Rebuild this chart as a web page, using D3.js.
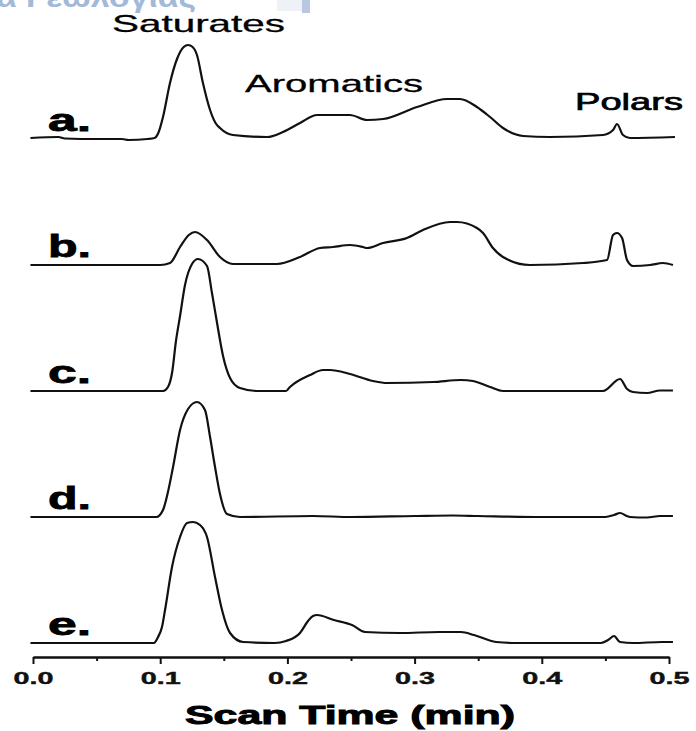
<!DOCTYPE html>
<html>
<head>
<meta charset="utf-8">
<script src="https://cdn.jsdelivr.net/npm/d3@7"></script>
<style>
  body { margin: 0; background: #fff; }
  svg { display: block; font-family: "Liberation Sans", Arial, sans-serif; }
</style>
</head>
<body>
<svg width="696" height="731"></svg>
<script>
// scan time (min) vs detector signal, one array per sample
var traceNames = ["a.", "b.", "c.", "d.", "e."];
var regionNames = ["Saturates", "Aromatics", "Polars"];
var majorTicks = [0, 0.1, 0.2, 0.3, 0.4, 0.5];
var minorTicks = [0.05, 0.15, 0.25, 0.35, 0.45];
var axisTitle = "Scan Time (min)";

var traceA = [[-0.002,0.01],[0.02,0.02],[0.025,0.005],[0.05,0],[0.07,0],[0.075,-0.01],[0.09,0],[0.0955,0.01],[0.0985,0.06],
  [0.1022,0.22],[0.1077,0.56],[0.1132,0.8],[0.1185,0.92],[0.1219,0.94],[0.1255,0.92],[0.1289,0.84],[0.1336,0.56],
  [0.1392,0.29],[0.1435,0.16],[0.147,0.11],[0.1572,0.04],[0.184,0.02],[0.1965,0.07],[0.2099,0.16],[0.2233,0.24],
  [0.2492,0.24],[0.2626,0.19],[0.2752,0.2],[0.3019,0.32],[0.3255,0.4],[0.3357,0.4],[0.349,0.32],[0.3593,0.22],
  [0.3695,0.11],[0.3852,0.03],[0.4064,0.02],[0.4481,0.04],[0.456,0.09],[0.4591,0.15],[0.4638,0.04],[0.4693,0.01],
  [0.5047,0.02]];

var traceB = [[-0.002,0],[0.1,0],[0.1077,0.02],[0.1156,0.18],[0.1225,0.3],[0.1274,0.33],[0.1368,0.25],[0.147,0.08],
  [0.1572,0.01],[0.1918,0.01],[0.2099,0.08],[0.2256,0.17],[0.2358,0.18],[0.2492,0.2],[0.2594,0.18],[0.2626,0.17],
  [0.2752,0.22],[0.294,0.27],[0.3066,0.35],[0.3278,0.43],[0.3333,0.43],[0.349,0.37],[0.3538,0.32],[0.3616,0.17],
  [0.3695,0.08],[0.3907,0],[0.4324,0.02],[0.4513,0.05],[0.456,0.3],[0.4591,0.32],[0.4631,0.27],[0.467,0.05],
  [0.4717,-0.01],[0.4851,0],[0.4953,0.02],[0.5031,0]];

var traceC = [[-0.002,0],[0.1022,0],[0.1061,0.04],[0.1093,0.18],[0.1124,0.5],[0.1156,0.75],[0.1195,1.06],[0.125,1.27],
  [0.1297,1.32],[0.1368,1.25],[0.1407,0.98],[0.1447,0.68],[0.1494,0.35],[0.1549,0.13],[0.1627,0.03],[0.176,0],
  [0.1989,0],[0.202,0.04],[0.2178,0.16],[0.228,0.21],[0.2335,0.21],[0.2492,0.17],[0.2673,0.1],[0.2783,0.08],
  [0.3145,0.09],[0.3365,0.11],[0.3459,0.1],[0.3593,0.04],[0.3695,0],[0.4481,0],[0.4615,0.12],[0.467,0.02],
  [0.4717,-0.01],[0.4827,-0.02],[0.4929,0.005],[0.5031,0.005]];

var traceD = [[-0.002,0],[0.097,0],[0.1022,0.07],[0.1061,0.25],[0.1101,0.5],[0.1156,0.87],[0.1219,1.08],[0.1289,1.15],
  [0.1352,1.07],[0.1392,0.8],[0.1431,0.5],[0.147,0.23],[0.1525,0.03],[0.1627,0],[0.22,0.01],[0.25,0],[0.3,0.01],
  [0.33,0.015],[0.35,0.01],[0.4,0],[0.45,0],[0.4568,0.02],[0.4615,0.04],[0.4668,0.01],[0.4693,0],[0.4827,-0.005],
  [0.4929,0.01],[0.5031,0.01]];

var traceE = [[-0.002,0],[0.095,0],[0.0983,0.06],[0.1014,0.16],[0.1038,0.33],[0.1093,0.76],[0.1156,1.06],[0.1211,1.2],
  [0.1258,1.21],[0.1313,1.18],[0.1368,1.06],[0.1431,0.66],[0.1486,0.33],[0.1549,0.1],[0.1651,0.01],[0.19,0],
  [0.1989,0.02],[0.2099,0.1],[0.2162,0.22],[0.2201,0.27],[0.2233,0.28],[0.2366,0.23],[0.2508,0.18],[0.261,0.11],
  [0.2885,0.1],[0.3192,0.11],[0.3365,0.11],[0.3467,0.08],[0.364,0.01],[0.38,0],[0.4465,0],[0.4521,0.03],
  [0.4568,0.07],[0.4615,0.01],[0.4717,0],[0.4945,0.01],[0.5031,0.01]];

var traces = [traceA, traceB, traceC, traceD, traceE];

var svg = d3.select("svg"),
    axisY = 657;

var x = d3.scaleLinear().domain([0, 0.5]).range([33, 669]);
var base = d3.scalePoint().domain(traceNames).range([139, 643]);
var amp = d3.scaleLinear().domain([0, 1]).range([0, 100]);

// faded watermark cut off at the top edge
svg.append("text")
    .attr("x", -4).attr("y", 7)
    .attr("textLength", 200).attr("lengthAdjust", "spacingAndGlyphs")
    .style("font-size", "28px").style("font-weight", "bold")
    .style("fill", "#a3b9d9")
    .text("α Γεωλογίας");
svg.append("rect").attr("x", 277).attr("y", 0).attr("width", 25).attr("height", 11).style("fill", "#eef1f6");
svg.append("rect").attr("x", 302).attr("y", 0).attr("width", 8).attr("height", 13).style("fill", "#b9c8e1");

var line = d3.line().curve(d3.curveMonotoneX);

traces.forEach(function(tr, i) {
  var b0 = base(traceNames[i]);
  svg.append("path")
      .datum(tr)
      .attr("d", line.x(function(d) { return x(d[0]); })
                     .y(function(d) { return b0 - amp(d[1]); }))
      .style("fill", "none")
      .style("stroke", "#111")
      .style("stroke-width", 2.2)
      .style("stroke-linejoin", "round");

  svg.append("text")
      .attr("x", 48).attr("y", b0 - 8)
      .attr("textLength", 43).attr("lengthAdjust", "spacingAndGlyphs")
      .style("font-size", "31px").style("font-weight", "bold")
      .style("stroke", "#000").style("stroke-width", 0.8)
      .text(traceNames[i]);
});

// region labels above trace a
var regionPos = [[112, 32, 173], [245, 92, 178], [575, 110, 108]];
svg.selectAll("text.region")
  .data(regionNames)
  .enter().append("text")
    .attr("class", "region")
    .attr("x", function(d, i) { return regionPos[i][0]; })
    .attr("y", function(d, i) { return regionPos[i][1]; })
    .attr("textLength", function(d, i) { return regionPos[i][2]; })
    .attr("lengthAdjust", "spacingAndGlyphs")
    .style("font-size", "24px")
    .style("stroke", "#000").style("stroke-width", function(d, i) { return i == 2 ? 0.7 : 0.3; })
    .text(function(d) { return d; });

// x axis
svg.append("g")
    .attr("transform", "translate(0," + axisY + ")")
    .call(d3.axisBottom(x).tickValues(minorTicks).tickSize(4).tickSizeOuter(0).tickFormat(""));
var majorAxis = svg.append("g")
    .attr("transform", "translate(0," + axisY + ")")
    .call(d3.axisBottom(x).tickValues(majorTicks).tickSize(7).tickSizeOuter(0).tickFormat(d3.format(".1f")));

svg.selectAll(".domain").style("stroke", "#111").style("stroke-width", 2);
svg.selectAll(".tick line").style("stroke", "#111").style("stroke-width", 2);

majorAxis.selectAll(".tick text")
    .attr("text-anchor", "start")
    .attr("x", -20).attr("y", 15)
    .attr("dy", "0.71em")
    .attr("textLength", 40).attr("lengthAdjust", "spacingAndGlyphs")
    .style("font-size", "17px").style("font-weight", "bold")
    .style("font-family", "'Liberation Sans', Arial, sans-serif")
    .style("stroke", "#111").style("stroke-width", 0.4)
    .style("fill", "#111");

svg.append("text")
    .attr("x", 185).attr("y", 724)
    .attr("textLength", 330).attr("lengthAdjust", "spacingAndGlyphs")
    .style("font-size", "25px").style("font-weight", "bold")
    .style("stroke", "#000").style("stroke-width", 0.9)
    .text(axisTitle);
</script>
</body>
</html>
